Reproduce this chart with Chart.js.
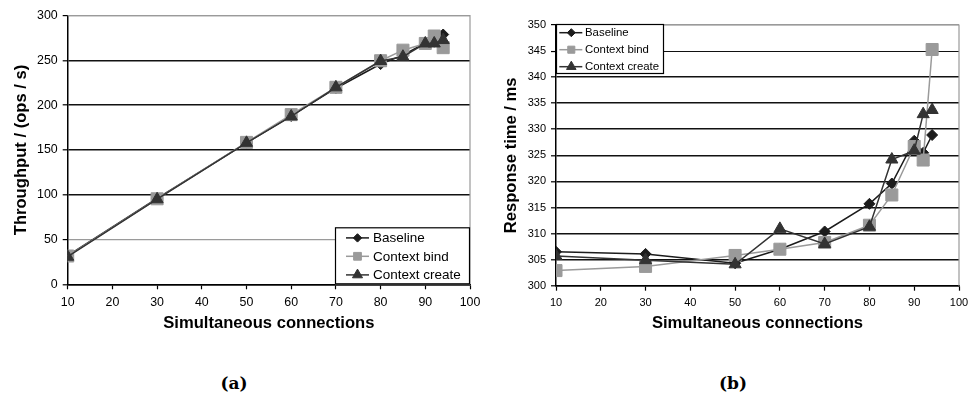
<!DOCTYPE html>
<html><head><meta charset="utf-8">
<script src="https://cdn.jsdelivr.net/npm/chart.js@4.4.0/dist/chart.umd.min.js"></script>
<style>
html,body{margin:0;padding:0;background:#fff}
body{width:969px;height:396px;overflow:hidden;position:relative}
#wa{position:absolute;left:0;top:0;width:480px;height:340px}
#wb{position:absolute;left:490px;top:0;width:479px;height:340px}
.cap{position:absolute;top:373px;line-height:20px;font:bold 17px "DejaVu Serif",serif;color:#000;transform:translateX(-50%)}
</style></head><body>
<div id="wa"><canvas id="ca" width="480" height="340"></canvas></div>
<div id="wb"><canvas id="cb" width="479" height="340"></canvas></div>
<div class="cap" style="left:234px">(a)</div>
<div class="cap" style="left:733px">(b)</div>
<script>
// ---- data ----
const connections = [10, 30, 50, 60, 70, 80, 85, 90, 92, 94];
const seriesNames = ['Baseline', 'Context bind', 'Context create'];
const throughputBaseline = [32, 96, 158, 188, 219, 246, 256, 269.5, 271, 279];
const throughputBind     = [31.6, 95.5, 158.5, 189.5, 220, 249.7, 261.5, 269, 277.3, 264.3];
const throughputCreate   = [30.8, 95, 158, 187.5, 220, 249.4, 254.2, 269, 269, 272.8];
const responseBaseline = [306.5, 306.1, 304.3, 307, 310.4, 315.7, 319.6, 327.8, 325.5, 328.9];
const responseBind     = [302.9, 303.7, 305.8, 307, 308.3, 311.6, 317.4, 326.7, 324.1, 345.3];
const responseCreate   = [305.7, 304.9, 304.1, 310.9, 308, 311.3, 324.2, 325.9, 332.9, 333.7];
const xTicks = [10, 20, 30, 40, 50, 60, 70, 80, 90, 100];
const throughputTicks = [0, 50, 100, 150, 200, 250, 300];
const responseTicks = [300, 305, 310, 315, 320, 325, 330, 335, 340, 345, 350];
const xTitle = 'Simultaneous connections';
const throughputTitle = 'Throughput / (ops / s)';
const responseTitle = 'Response time / ms';

// ---- styles ----
const FONT = '"Liberation Sans", Arial, sans-serif';
const seriesColors = ['#1c1c1c', '#9a9a9a', '#333333'];
const seriesPoints = ['rectRot', 'rect', 'triangle'];
const seriesRadii = [5.5, 8.5, 7];

function zip(xs, ys) { return xs.map((x, i) => ({ x: x, y: ys[i] })); }

function makeDatasets(arrs) {
  return arrs.map((a, i) => ({
    label: seriesNames[i],
    data: zip(connections, a),
    borderColor: seriesColors[i],
    backgroundColor: seriesColors[i],
    pointBackgroundColor: seriesColors[i],
    pointBorderColor: seriesColors[i],
    pointBorderWidth: 1,
    pointStyle: seriesPoints[i],
    pointRadius: seriesRadii[i],
    borderWidth: 1.5,
    tension: 0,
    order: 2 - i
  }));
}

const frame = {
  id: 'frame',
  afterDatasetsDraw(chart) {
    const ca = chart.chartArea, ctx = chart.ctx;
    ctx.save();
    ctx.strokeStyle = '#9a9a9a';
    ctx.lineWidth = 1.2;
    ctx.beginPath();
    ctx.moveTo(ca.left, ca.top); ctx.lineTo(ca.right, ca.top); ctx.lineTo(ca.right, ca.bottom);
    ctx.stroke();
    ctx.restore();
  }
};

function boxLegend(cfg) {
  return {
    id: 'boxLegend',
    afterDraw(chart) {
      const ca = chart.chartArea, ctx = chart.ctx;
      const x0 = cfg.anchor === 'br' ? ca.right - cfg.w : ca.left;
      const y0 = cfg.anchor === 'br' ? ca.bottom - cfg.h : ca.top - 1;
      ctx.save();
      ctx.fillStyle = '#fff';
      ctx.fillRect(x0, y0, cfg.w, cfg.h);
      ctx.strokeStyle = '#000';
      ctx.lineWidth = 1.2;
      ctx.strokeRect(x0 + 0.5, y0 + 0.5, cfg.w - 1, cfg.h - 1);
      const sets = chart.data.datasets;
      for (let i = 0; i < sets.length; i++) {
        const ds = sets[i];
        const y = y0 + cfg.rows[i];
        ctx.strokeStyle = ds.borderColor;
        ctx.lineWidth = 1.5;
        ctx.beginPath();
        ctx.moveTo(x0 + cfg.lx1, y); ctx.lineTo(x0 + cfg.lx2, y);
        ctx.stroke();
        ctx.fillStyle = ds.pointBackgroundColor;
        ctx.strokeStyle = ds.pointBorderColor;
        ctx.lineWidth = 1;
        Chart.helpers.drawPoint(ctx, { pointStyle: ds.pointStyle, radius: cfg.radii[i], borderWidth: 1, rotation: 0 }, x0 + cfg.mx, y);
        ctx.fillStyle = '#000';
        ctx.font = cfg.font + 'px ' + FONT;
        ctx.textBaseline = 'middle';
        ctx.textAlign = 'left';
        ctx.fillText(ds.label, x0 + cfg.tx, y + 0.5);
      }
      ctx.restore();
    }
  };
}

function makeChart(id, arrs, yTicks, yTitle, geo, legendCfg, gridColorFn, gridWidthFn) {
  return new Chart(document.getElementById(id), {
    type: 'line',
    data: { datasets: makeDatasets(arrs) },
    plugins: [frame, boxLegend(legendCfg)],
    options: {
      responsive: false,
      animation: false,
      events: [],
      devicePixelRatio: 1,
      layout: { padding: { left: 0, top: geo.top, right: geo.right, bottom: 0 } },
      plugins: { legend: { display: false }, tooltip: { enabled: false } },
      scales: {
        x: {
          type: 'linear',
          min: xTicks[0], max: xTicks[xTicks.length - 1],
          afterBuildTicks(s) { s.ticks = xTicks.map(v => ({ value: v })); },
          afterFit(s) { s.height = geo.xh; s.paddingLeft = 0; s.paddingRight = 0; },
          border: { color: '#000', width: 1.5 },
          grid: { drawOnChartArea: false, drawTicks: true, tickLength: 5, tickColor: '#000', tickWidth: 1.2 },
          ticks: { color: '#000', font: { family: FONT, size: geo.tick }, padding: 6, maxRotation: 0, autoSkip: false },
          title: { display: true, text: xTitle, color: '#000', font: { family: FONT, size: 16.6, weight: 'bold' }, padding: { top: 0, bottom: 7 } }
        },
        y: {
          type: 'linear',
          min: yTicks[0], max: yTicks[yTicks.length - 1],
          afterBuildTicks(s) { s.ticks = yTicks.map(v => ({ value: v })); },
          afterFit(s) { s.width = geo.yw; },
          border: { color: '#000', width: 1.5 },
          grid: { color: gridColorFn, lineWidth: gridWidthFn, drawTicks: true, tickLength: 5, tickColor: '#000', tickWidth: 1.2 },
          ticks: { color: '#000', font: { family: FONT, size: geo.tick }, padding: 5, autoSkip: false },
          title: { display: true, text: yTitle, color: '#000', font: { family: FONT, size: 16.6, weight: 'bold' }, padding: { top: geo.ytp, bottom: 0 } }
        }
      }
    }
  });
}

makeChart('ca', [throughputBaseline, throughputBind, throughputCreate], throughputTicks, throughputTitle,
  { top: 15.7, right: 10, xh: 55.7, yw: 67.7, tick: 12.4, ytp: 11.7 },
  { anchor: 'br', w: 135, h: 57, rows: [10.6, 29, 47.6], lx1: 11, lx2: 34, mx: 22.5, tx: 38, font: 13.5, radii: [4.2, 5.5, 5.8] },
  c => (c.tick.value === 50 || c.tick.value === 300) ? '#9a9a9a' : '#111',
  c => (c.tick.value === 50 || c.tick.value === 300) ? 1.2 : 1.6);

makeChart('cb', [responseBaseline, responseBind, responseCreate], responseTicks, responseTitle,
  { top: 25, right: 10, xh: 54.3, yw: 66, tick: 11, ytp: 11 },
  { anchor: 'tl', w: 108, h: 50, rows: [8.7, 25.7, 42.7], lx1: 3.3, lx2: 26.3, mx: 15.3, tx: 29, font: 11.4, radii: [4, 5, 5.5] },
  c => (c.tick.value === 350) ? '#9a9a9a' : '#111',
  c => (c.tick.value === 350) ? 1.2 : (c.tick.value === 345 ? 1.1 : 1.6));
</script>
</body></html>
